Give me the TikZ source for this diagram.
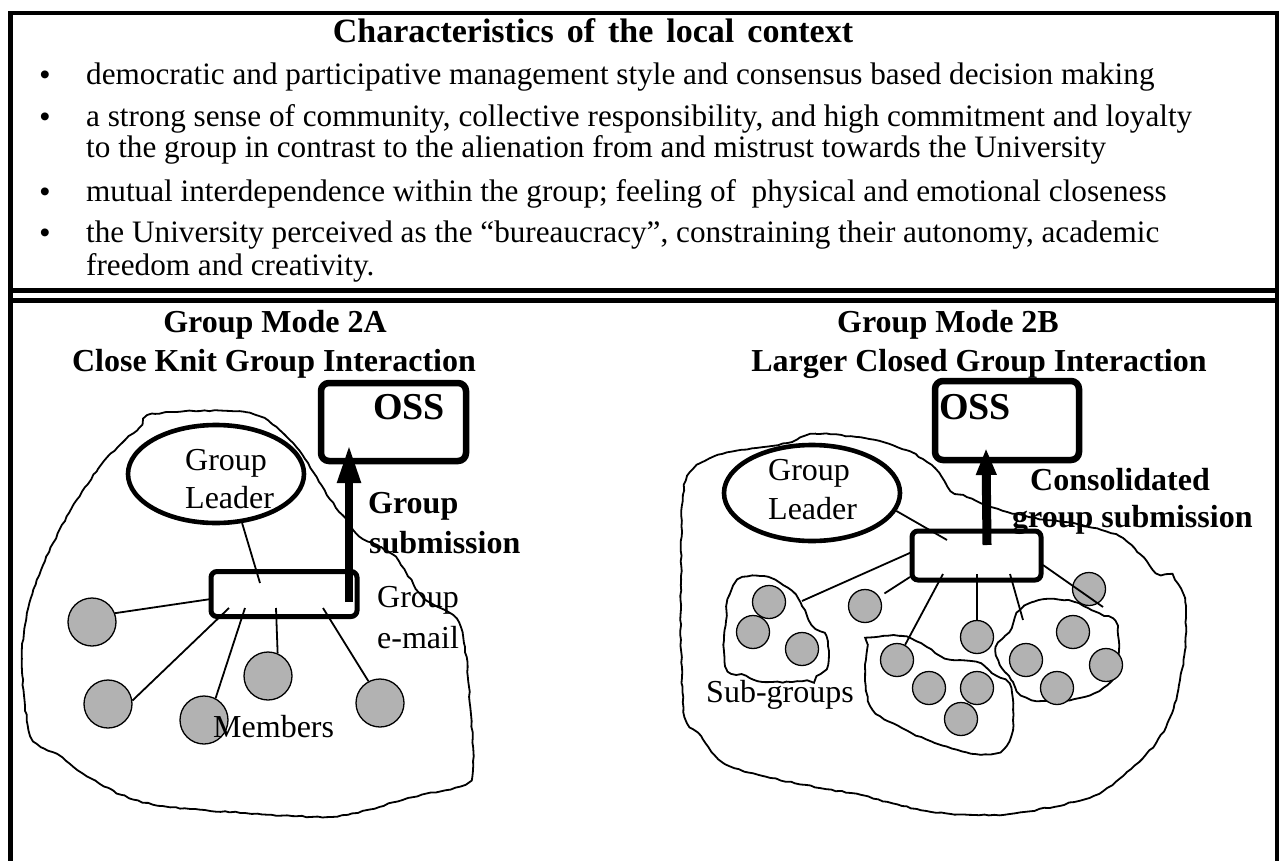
\documentclass[tikz,border=0pt]{standalone}
\usepackage{fontspec}
\setmainfont{Liberation Serif}
\newfontfamily\arialf{Liberation Sans}
\usetikzlibrary{shapes.geometric,arrows.meta,calc,decorations.pathmorphing}
\begin{document}
\begin{tikzpicture}[x=1pt,y=-1pt,
  frame/.style={line width=4.6pt},
  blob/.style={line width=1.8pt,decorate,decoration={random steps,segment length=5pt,amplitude=0.7pt}},
  member/.style={circle,draw,line width=1.3pt,fill=gray!60,minimum size=48pt,inner sep=0pt},
  smember/.style={circle,draw,line width=1.3pt,fill=gray!60,minimum size=33pt,inner sep=0pt},
  link/.style={line width=1.8pt},
  leaderell/.style={ellipse,draw,line width=4.6pt,inner sep=0pt},
  ossbox/.style={draw,line width=6.5pt,rounded corners=8pt,inner sep=0pt},
  mailbox/.style={draw,line width=5pt,rounded corners=6pt,fill=white,inner sep=0pt},
  subarrow/.style={line width=8pt,-{Triangle[length=38pt,width=22pt]}},
  subarrowR/.style={line width=9pt,-{Triangle[length=27pt,width=19pt]}},
  lbl/.style={inner sep=0pt,anchor=base west,font=\fontsize{32}{38}\selectfont},
  blbl/.style={inner sep=0pt,anchor=base west,font=\fontsize{32}{38}\selectfont\bfseries},
  head/.style={inner sep=0pt,anchor=base,font=\fontsize{32}{38}\selectfont\bfseries},
  osst/.style={inner sep=0pt,anchor=base west,font=\fontsize{38}{44}\selectfont\bfseries},
  btxt/.style={inner sep=0pt,anchor=base west,font=\fontsize{31.2}{36}\selectfont},
  bdot/.style={inner sep=0pt,anchor=base,font=\arialf\fontsize{29}{32}\selectfont}
]
\pgfmathsetseed{7}
\useasboundingbox (0,0) rectangle (1282,861);
\fill[white] (0,0) rectangle (1282,861);

% ---------- frame ----------
\draw[frame] (10.5,861) -- (10.5,13) -- (1277,13) -- (1277,861);
\draw[frame] (10.5,290.5) -- (1277,290.5);
\draw[frame] (10.5,300.5) -- (1277,300.5);

% ---------- top box ----------
\node[head,font=\fontsize{34}{40}\selectfont\bfseries] (title) at (593,43) {Characteristics\hspace{13pt}of\hspace{13pt}the\hspace{13pt}local\hspace{13pt}context};
\node[bdot] (d1) at (45,85) {•};
\node[btxt] (t1) at (86,85) {democratic and participative management style and consensus based decision making};
\node[bdot] (d2) at (45,127) {•};
\node[btxt] (t2a) at (86,127) {a strong sense of community, collective responsibility, and high commitment and loyalty};
\node[btxt] (t2b) at (86,158) {to the group in contrast to the alienation from and mistrust towards the University};
\node[bdot] (d3) at (45,202) {•};
\node[btxt] (t3) at (86,202) {mutual interdependence within the group; feeling of\ \ physical and emotional closeness};
\node[bdot] (d4) at (45,243) {•};
\node[btxt] (t4a) at (86,243) {the University perceived as the “bureaucracy”, constraining their autonomy, academic};
\node[btxt] (t4b) at (86,275) {freedom and creativity.};

% ---------- headings ----------
\node[head] (h2a1) at (275,332) {Group Mode 2A};
\node[head] (h2a2) at (274,371) {Close Knit Group Interaction};
\node[head] (h2b1) at (948,332) {Group Mode 2B};
\node[head] (h2b2) at (979,371) {Larger Closed Group Interaction};

% ---------- left panel ----------
\draw[blob] plot[smooth cycle,tension=0.55] coordinates {
 (155,414) (245,412) (286,436) (314,473) (327,495) (347,521) (359,536) (392,554)
 (408,576) (424,598) (453,615) (461,628) (465,647) (469,687) (473,761) (465,784)
 (408,798) (367,810) (327,817) (245,813) (163,806) (122,795) (82,773) (57,754)
 (41,747) (29,730) (22,669) (27,613) (45,561) (69,513) (98,469) (122,443) (139,428)};

\node[member] (m1) at (92,622) {};
\node[member] (m2) at (108,704) {};
\node[member] (m3) at (204,720) {};
\node[member] (m4) at (268,676) {};
\node[member] (m5) at (380,703) {};

\node[mailbox,minimum width=146pt,minimum height=45pt] (mailL) at (284,594) {};
\coordinate (eL0) at (260,583);
\coordinate (eL1) at (211,599);
\coordinate (eL2) at (229,608);
\coordinate (eL3) at (245,608);
\coordinate (eL4) at (276,608);
\coordinate (eL5) at (323,608);

\node[leaderell,minimum width=176pt,minimum height=98pt] (glL) at (216,474) {};
\node[lbl] (glLa) at (185,470) {Group};
\node[lbl] (glLb) at (185,508) {Leader};

\draw[link] (glL.-62) -- (eL0);
\draw[link] (m1.21) -- (eL1);
\draw[link] (m2.8) -- (eL2);
\draw[link] (m3.62) -- (eL3);
\draw[link] (m4.67) -- (eL4);
\draw[link] (m5.118) -- (eL5);

\node[ossbox,minimum width=145pt,minimum height=78pt] (ossL) at (393.5,422) {};
\node[osst] (ossLt) at (373,419) {OSS};
\coordinate (aLs) at (349,602);
\coordinate (aLt) at (349,445);
\draw[subarrow] (aLs) -- (aLt);

\node[blbl] (subL1) at (368,513) {Group};
\node[blbl] (subL2) at (369,553) {submission};
\node[lbl] (emL1) at (377,607) {Group};
\node[lbl] (emL2) at (377,648) {e-mail};
\node[lbl] (memL) at (213,737) {Members};

% ---------- right panel ----------
\draw[blob] plot[smooth cycle,tension=0.55] coordinates {
 (787,443) (816,434) (869,439) (906,450) (927,462) (939,473) (951,491) (963,495)
 (988,506) (1029,517) (1082,525) (1119,536) (1140,554) (1156,573) (1172,576)
 (1185,602) (1185,650) (1180,680) (1172,713) (1156,743) (1131,769) (1103,791)
 (1074,802) (1009,814) (951,814) (902,806) (861,795) (820,788) (763,776) (722,762)
 (701,736) (685,717) (681,650) (681,576) (683,495) (693,469) (722,454) (763,447)};

\draw[blob] plot[smooth cycle,tension=0.55] coordinates {
 (738,580) (759,576) (775,580) (792,591) (802,606) (812,625) (826,636) (828,665)
 (820,673) (812,680) (763,682) (746,676) (728,671) (724,650) (726,621) (728,599)};
\draw[blob] plot[smooth cycle,tension=0.55] coordinates {
 (869,639) (902,636) (927,647) (945,658) (976,662) (992,673) (1009,684) (1013,710)
 (1011,736) (1000,752) (976,754) (935,743) (902,728) (873,710) (865,680) (867,650)};
\draw[blob] plot[smooth cycle,tension=0.55] coordinates {
 (1017,613) (1033,602) (1054,599) (1074,602) (1099,613) (1115,621) (1119,650)
 (1117,673) (1099,691) (1074,699) (1041,701) (1021,695) (1011,680) (1000,665)
 (996,647) (1009,632)};

\node[smember] (s1a) at (769,602) {};
\node[smember] (s1b) at (753,632) {};
\node[smember] (s1c) at (802,649) {};
\node[smember] (sA) at (865,606) {};
\node[smember] (s2a) at (897,660) {};
\node[smember] (s2b) at (929,688) {};
\node[smember] (s2c) at (977,688) {};
\node[smember] (s2d) at (961,719) {};
\node[smember] (sB) at (977,637) {};
\node[smember] (s3a) at (1073,632) {};
\node[smember] (s3b) at (1026,660) {};
\node[smember] (s3c) at (1106,665) {};
\node[smember] (s3d) at (1057,688) {};
\node[smember] (sC) at (1089,589) {};

\node[mailbox,minimum width=129pt,minimum height=49pt] (mailR) at (976.5,555.5) {};
\coordinate (cR0) at (947,540);
\coordinate (cR1) at (912,552);
\coordinate (cR2) at (910,577);
\coordinate (cR3) at (943,574);
\coordinate (cR4) at (977,574);
\coordinate (cR5) at (1010,574);
\coordinate (cR6) at (1043,565);
\coordinate (g1e) at (802,601);
\coordinate (g3e) at (1023,620);
\coordinate (g3f) at (1103,607);

\node[leaderell,minimum width=176pt,minimum height=96pt] (glR) at (812,493) {};
\node[lbl] (glRa) at (768,480) {Group};
\node[lbl] (glRb) at (768,519) {Leader};

\draw[link] (glR.-12) -- (cR0);
\draw[link] (cR1) -- (g1e);
\draw[link,shorten >=6pt] (cR2) -- (sA);
\draw[link] (cR3) -- (s2a);
\draw[link] (cR4) -- (sB);
\draw[link] (cR5) -- (g3e);
\draw[link] (cR6) -- (g3f);

\node[ossbox,minimum width=144pt,minimum height=79pt] (ossR) at (1007,420.5) {};
\node[osst] (ossRt) at (939,419) {OSS};
\coordinate (aRs) at (987,545);
\coordinate (aRt) at (986,448);
\draw[subarrowR] (aRs) -- (aRt);

\node[blbl] (conR1) at (1030,490) {Consolidated};
\node[blbl] (conR2) at (1012,527) {group submission};
\node[lbl] (subg) at (706,702) {Sub-groups};
\end{tikzpicture}
\end{document}
